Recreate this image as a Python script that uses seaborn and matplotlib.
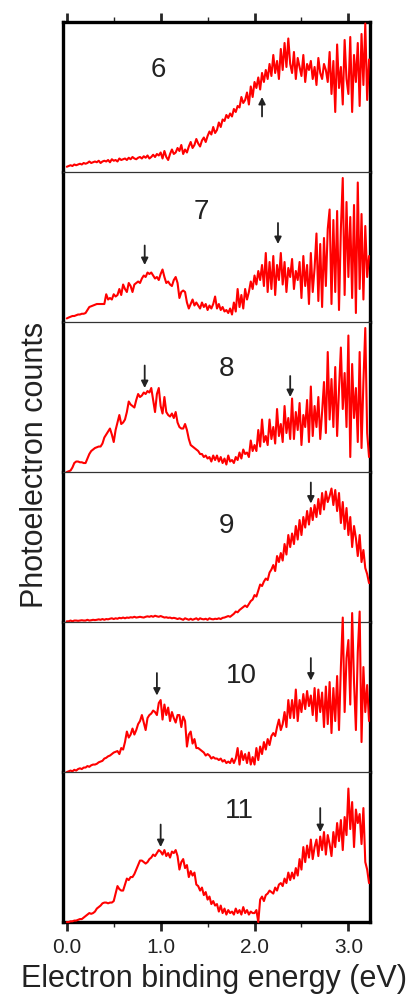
import numpy as np
import matplotlib
matplotlib.use("Agg")
import matplotlib.pyplot as plt
from matplotlib.ticker import FixedLocator, FormatStrFormatter
import seaborn as sns

# energy channels (eV), 0.02 eV steps from 0.00 to 3.22
energy = np.round(np.arange(0, 3.2201, 0.02), 2)

# photoelectron counts (% of panel height)
n6 = [3.5, 4, 4.5, 4, 5, 4.5, 5, 5.5, 5, 6,
      5.5, 6, 7, 6, 6.5, 7, 6.5, 7.5, 6, 7,
      7.5, 7, 8, 6.5, 8.5, 7.5, 8, 7, 9, 8,
      8.5, 9, 8, 9.5, 8.5, 10, 9, 8.5, 9.5, 10,
      9, 10.5, 9.5, 11, 9, 10, 11.5, 10, 12, 11,
      13, 9, 14, 10, 8, 12, 15, 12, 13, 16,
      14, 18, 12, 15, 13, 17, 20, 16, 18, 22,
      19, 17, 21, 23, 20, 24, 27, 25, 30, 26,
      28, 33, 30, 35, 34, 38, 36, 39, 37, 42,
      40, 44, 43, 50, 46, 48, 53, 45, 57, 50,
      60, 56, 63, 55, 66, 60, 68, 62, 72, 64,
      78, 66, 74, 62, 82, 68, 86, 70, 89, 72,
      66, 80, 62, 76, 70, 64, 78, 60, 72, 68,
      74, 62, 70, 58, 76, 66, 62, 72, 68, 60,
      80, 52, 74, 40, 85, 56, 70, 45, 88, 62,
      52, 90, 40, 78, 60, 86, 44, 92, 58, 99,
      48, 75]
n7 = [2.4, 3, 3.5, 4, 4, 4.5, 5, 5, 5.5, 5.5,
      6, 8, 10, 10.5, 11, 11.5, 12, 12, 12, 12,
      12, 18.5, 15, 16, 15, 18.5, 17, 18, 22, 18,
      25, 22, 20, 26, 24, 20, 25, 26, 27, 26,
      29, 31, 30, 33, 32, 33, 31, 29, 30, 28,
      32, 35, 30, 26, 27, 25, 24, 28, 30, 26,
      16, 20, 21, 20, 13, 9, 12, 15, 11, 13,
      11, 9, 13, 10, 12, 8, 11, 9, 12, 17,
      9, 12, 8, 10, 7, 8, 6, 9, 5, 13,
      7, 22, 10, 18, 9, 22, 15, 20, 27, 22,
      31, 25, 34, 28, 38, 24, 46, 20, 40, 22,
      44, 18, 38, 28, 46, 25, 40, 20, 36, 30,
      42, 22, 34, 28, 40, 16, 44, 24, 38, 12,
      46, 20, 36, 59, 14, 52, 10, 56, 24, 62,
      75, 12, 68, 20, 74, 8, 62, 96, 18, 80,
      30, 70, 16, 78, 6, 93, 22, 72, 15, 64,
      30, 44]
n8 = [0, 0.5, 1, 3, 6, 7, 7, 6.5, 6.5, 6,
      6, 9, 12, 14, 15, 16, 16.5, 17, 17, 19,
      23, 25, 27, 29, 25, 20, 28, 33, 38, 32,
      33, 35, 40, 47, 45, 44, 43, 48, 52, 50,
      51, 53, 52, 54, 53, 56, 48, 40, 52, 56,
      44, 39, 50, 40, 38, 37, 39, 36, 40, 33,
      30, 29, 29, 32, 28, 22, 18, 17, 16, 15,
      14, 12, 12, 10, 11, 9, 10, 7, 11, 8,
      11, 7, 10, 6, 9, 5, 11, 7, 8, 6,
      10, 8, 13, 9, 15, 12, 13, 10, 21, 14,
      18, 14, 28, 17, 35, 20, 24, 18, 35, 22,
      30, 19, 42, 24, 32, 20, 44, 26, 36, 22,
      49, 22, 40, 28, 46, 18, 38, 30, 48, 20,
      57, 24, 44, 30, 50, 22, 40, 60, 26, 80,
      35, 62, 30, 70, 24, 55, 83, 42, 66, 30,
      91, 10, 72, 36, 56, 20, 80, 16, 60, 96,
      26, 10]
n9 = [0.5, 0.5, 1, 0.5, 1, 1, 0.8, 1, 1.2, 1,
      1, 1.5, 1, 1.2, 1.5, 1.3, 1.5, 1.8, 1.5, 2,
      1.5, 2, 1.8, 2.2, 2.5, 2, 2.5, 2.2, 2.8, 2.5,
      3, 2.5, 3, 2.8, 3.2, 3, 3.5, 3, 3.2, 3.5,
      3.2, 3, 3.5, 3.8, 3.5, 4, 3.5, 4.2, 3.8, 3.5,
      4, 3.5, 3, 3.2, 2.8, 3, 2.5, 2.8, 2.5, 2,
      2.5, 2, 1.5, 2.5, 2, 1.5, 2.2, 1.5, 2, 2.5,
      1.5, 2.5, 2, 1.8, 2.2, 1.5, 2.5, 2, 1.8, 2.2,
      2, 2.5, 2, 2.8, 3, 3.5, 4, 3.5, 4.5, 5.5,
      7, 6.5, 8, 9, 10, 11, 10, 12, 14, 15,
      18, 17, 21, 25, 24, 27, 29, 28, 33, 35,
      38, 34, 44, 40, 46, 41, 52, 45, 58, 50,
      59, 52, 64, 55, 68, 58, 70, 63, 74, 65,
      76, 68, 78, 70, 82, 72, 86, 75, 87, 80,
      84, 89, 78, 88, 74, 86, 66, 80, 62, 76,
      58, 70, 50, 64, 56, 44, 58, 40, 48, 36,
      32, 26]
n10 = [0, 0.5, 1, 0.5, 1.5, 1, 2, 2.5, 2, 3,
       3, 4, 3.5, 4.5, 5, 5, 5.5, 6.5, 7, 7.5,
       9, 9.5, 10.5, 11, 12, 13, 13.5, 14, 12, 16,
       15, 20, 27, 23, 25, 29, 25, 28, 32, 34,
       38, 33, 28, 36, 38, 39, 41, 40, 38, 46,
       48, 35, 45, 38, 43, 34, 40, 36, 33, 38,
       38, 30, 37, 34, 17, 25, 27, 19, 22, 16,
       16, 15, 14, 13, 11, 12, 11, 9, 10, 9,
       9, 8, 9, 7, 8, 6, 7, 6, 9, 6,
       9, 16, 5, 14, 8, 12, 6, 13, 5, 10,
       5, 16, 8, 17, 12, 20, 15, 22, 18, 24,
       26, 24, 30, 35, 28, 32, 40, 30, 48, 36,
       48, 36, 55, 34, 48, 40, 52, 42, 54, 44,
       51, 38, 56, 34, 55, 40, 53, 30, 57, 32,
       60, 26, 56, 34, 64, 28, 70, 103, 40, 76,
       88, 45, 106, 60, 28, 80, 107, 20, 70, 40,
       58, 34]
n11 = [0, 0, 0.5, 0.5, 1, 1, 1.5, 2, 2, 3,
       4, 5, 6, 5.5, 6, 7, 9, 10, 11, 12.5,
       13, 13, 12.5, 13, 13, 14, 19, 24, 22, 21,
       21, 25, 29, 28, 30, 30, 32, 35, 38, 41,
       41, 40, 39, 40, 42, 43, 45, 44, 46, 48,
       47, 45, 48, 44, 46, 43, 47, 46, 48, 44,
       35, 40, 42, 36, 38, 30, 34, 31, 33, 25,
       24, 21, 23, 18, 20, 15, 17, 12, 14, 11,
       12, 7, 11, 6, 9, 5, 8, 6, 7, 5,
       9, 6, 8, 5, 10, 6, 8, 5, 7, 6,
       6, 8, 0, 15, 17, 14, 18, 19, 21, 20,
       19, 23, 21, 25, 26, 24, 29, 26, 33, 28,
       33, 29, 36, 31, 42, 35, 50, 40, 51, 43,
       55, 42, 50, 55, 44, 57, 48, 60, 45, 58,
       52, 44, 60, 50, 66, 54, 68, 48, 70, 58,
       89, 62, 80, 50, 75, 66, 72, 52, 76, 40,
       35, 26]

labels = ["6", "7", "8", "9", "10", "11"]
label_x = [0.97, 1.43, 1.70, 1.70, 1.86, 1.84]
label_y = [0.68, 0.73, 0.69, 0.64, 0.64, 0.74]
# arrows: (energy, tail, head) in panel fraction
arrows = [[(2.08, 0.37, 0.50)],
          [(0.83, 0.51, 0.38), (2.25, 0.66, 0.52)],
          [(0.83, 0.71, 0.56), (2.38, 0.64, 0.50)],
          [(2.60, 0.93, 0.79)],
          [(0.96, 0.66, 0.51), (2.60, 0.76, 0.61)],
          [(1.00, 0.65, 0.50), (2.70, 0.76, 0.60)]]
spectra = [n6, n7, n8, n9, n10, n11]

sns.set_style("ticks")
plt.rcParams['font.family'] = ['Liberation Sans', 'DejaVu Sans']
ink = '#222222'

fig, axes = plt.subplots(6, 1, figsize=(4.12, 9.99), dpi=100, sharex=True)
fig.subplots_adjust(left=0.153, right=0.898, top=0.978, bottom=0.077, hspace=0)

for i, ax in enumerate(axes):
    sns.lineplot(x=energy, y=spectra[i], ax=ax, color='#ff0000', lw=1.5,
                 clip_on=False, zorder=3)
    ax.set_ylim(0, 100)
    ax.set_xlim(-0.04, 3.23)
    ax.set_yticks([])
    ax.set_ylabel('')
    ax.text(label_x[i], label_y[i], labels[i], transform=ax.get_xaxis_transform(),
            ha='center', va='center', fontsize=20, color=ink)
    for ex, tail, head in arrows[i]:
        ax.annotate('', xy=(ex, head), xytext=(ex, tail),
                    xycoords=('data', 'axes fraction'),
                    textcoords=('data', 'axes fraction'),
                    arrowprops=dict(arrowstyle='-|>', color=ink, lw=1.3,
                                    mutation_scale=10, shrinkA=0, shrinkB=0))
    for s in ['left', 'right']:
        ax.spines[s].set_linewidth(2.4)
        ax.spines[s].set_color('black')
    ax.spines['top'].set_linewidth(0.9)
    ax.spines['top'].set_color('#333333')
    ax.spines['bottom'].set_visible(False)
    ax.tick_params(axis='x', which='both', bottom=False, top=False,
                   labelbottom=False, labeltop=False)

axes[0].spines['top'].set_linewidth(2.4)
axes[0].spines['top'].set_color('black')
axes[-1].spines['bottom'].set_visible(True)
axes[-1].spines['bottom'].set_linewidth(2.4)
axes[-1].spines['bottom'].set_color('black')

axes[-1].xaxis.set_major_locator(FixedLocator([0, 1, 2, 3]))
axes[-1].xaxis.set_minor_locator(FixedLocator([0.5, 1.5, 2.5]))
axes[-1].xaxis.set_major_formatter(FormatStrFormatter('%.1f'))
axes[-1].tick_params(axis='x', which='major', bottom=True, labelbottom=True,
                     direction='out', length=6.5, width=2, labelsize=15,
                     labelcolor=ink, pad=5)
axes[-1].tick_params(axis='x', which='minor', bottom=True, direction='out',
                     length=3.5, width=1)
axes[0].tick_params(axis='x', which='major', top=True, direction='out',
                    length=6.5, width=2)
axes[0].tick_params(axis='x', which='minor', top=True, direction='out',
                    length=3.5, width=1)

fig.text(0.519, 0.02, 'Electron binding energy (eV)', ha='center', va='center',
         fontsize=22, color=ink)
fig.text(0.085, 0.535, 'Photoelectron counts', ha='center', va='center',
         rotation=90, fontsize=22, color=ink)

fig.savefig('out.png', dpi=100)
